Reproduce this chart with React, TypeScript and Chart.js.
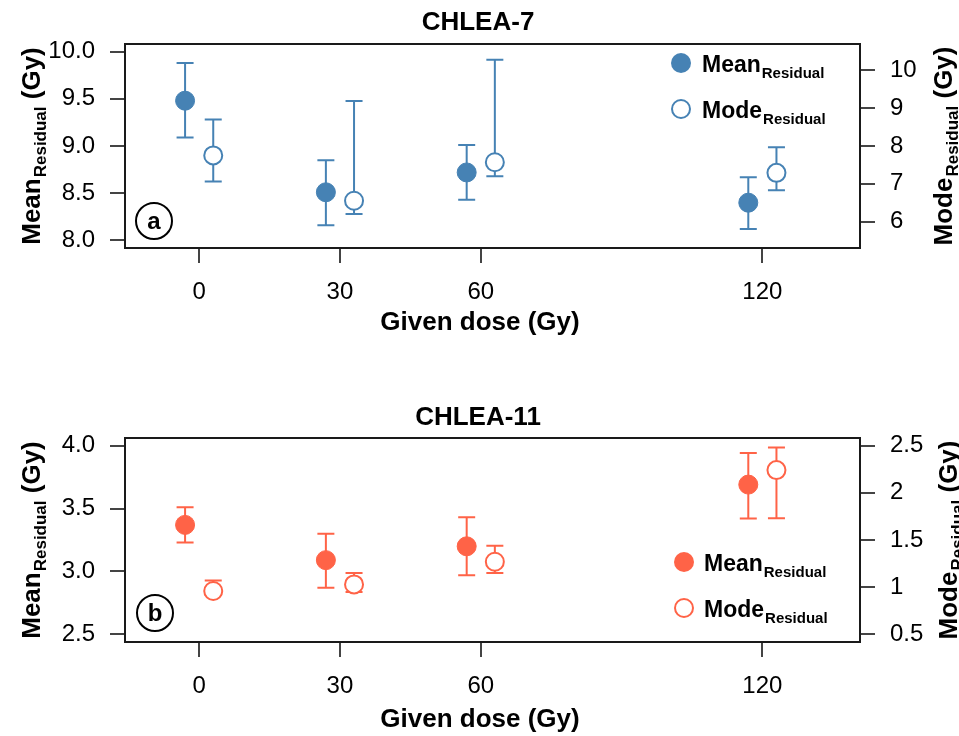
import React, { useEffect, useRef } from "react";
import { Chart, registerables } from "chart.js";

Chart.register(...registerables);

// ---------------- data ----------------
const DOSES = [0, 30, 60, 120];
const DOSE_TICKS = [0, 30, 60, 120];
const X_LIMITS = [-10, 135];
const DODGE = 3;

// Panel a: CHLEA-7
const A_MEAN = [9.48, 8.51, 8.72, 8.4];
const A_MEAN_LO = [9.09, 8.16, 8.43, 8.12];
const A_MEAN_HI = [9.88, 8.85, 9.01, 8.67];
const A_MODE = [7.75, 6.55, 7.57, 7.29];
const A_MODE_LO = [7.06, 6.2, 7.2, 6.83];
const A_MODE_HI = [8.7, 9.19, 10.28, 7.97];
const A_LEFT_TICKS = [8, 8.5, 9, 9.5, 10];
const A_RIGHT_TICKS = [6, 7, 8, 9, 10];
const A_LEFT_LIMITS = [8, 10];
const A_RIGHT_LIMITS = [5.5, 10.5];

// Panel b: CHLEA-11
const B_MEAN = [3.37, 3.09, 3.2, 3.69];
const B_MEAN_LO = [3.23, 2.87, 2.97, 3.42];
const B_MEAN_HI = [3.51, 3.3, 3.43, 3.94];
const B_MODE = [0.96, 1.03, 1.27, 2.24];
const B_MODE_LO = [0.92, 0.95, 1.15, 1.73];
const B_MODE_HI = [1.07, 1.15, 1.44, 2.48];
const B_LEFT_TICKS = [2.5, 3, 3.5, 4];
const B_RIGHT_TICKS = [0.5, 1, 1.5, 2, 2.5];
const B_LEFT_LIMITS = [2.5, 4];
const B_RIGHT_LIMITS = [0.5, 2.5];

// ---------------- style ----------------
const FONT = "'Liberation Sans', Arial, Helvetica, sans-serif";
const BLUE = "#4682B4";
const RED = "#FF6347";
const W = 959;
const H = 368;

const expand = (lim: number[]) => {
  const d = lim[1] - lim[0];
  return [lim[0] - 0.04 * d, lim[1] + 0.04 * d];
};

type Panel = {
  title: string;
  letter: string;
  color: string;
  mean: number[];
  meanLo: number[];
  meanHi: number[];
  mode: number[];
  modeLo: number[];
  modeHi: number[];
  leftTicks: number[];
  rightTicks: number[];
  leftLim: number[];
  rightLim: number[];
  areaTop: number;
  areaBottom: number;
  titleBase: number;
  xTitleBase: number;
  legendX: number;
  legendTextX: number;
  legendY: number[];
  letterX: number;
  letterY: number;
  leftLabelX: number;
  rightLabelX: number;
};

const PANELS: Panel[] = [
  {
    title: "CHLEA-7",
    letter: "a",
    color: BLUE,
    mean: A_MEAN,
    meanLo: A_MEAN_LO,
    meanHi: A_MEAN_HI,
    mode: A_MODE,
    modeLo: A_MODE_LO,
    modeHi: A_MODE_HI,
    leftTicks: A_LEFT_TICKS,
    rightTicks: A_RIGHT_TICKS,
    leftLim: A_LEFT_LIMITS,
    rightLim: A_RIGHT_LIMITS,
    areaTop: 44,
    areaBottom: 248,
    titleBase: 30,
    xTitleBase: 330,
    legendX: 681,
    legendTextX: 702,
    legendY: [63, 109],
    letterX: 154,
    letterY: 221,
    leftLabelX: 40,
    rightLabelX: 952,
  },
  {
    title: "CHLEA-11",
    letter: "b",
    color: RED,
    mean: B_MEAN,
    meanLo: B_MEAN_LO,
    meanHi: B_MEAN_HI,
    mode: B_MODE,
    modeLo: B_MODE_LO,
    modeHi: B_MODE_HI,
    leftTicks: B_LEFT_TICKS,
    rightTicks: B_RIGHT_TICKS,
    leftLim: B_LEFT_LIMITS,
    rightLim: B_RIGHT_LIMITS,
    areaTop: 70,
    areaBottom: 274,
    titleBase: 57,
    xTitleBase: 359,
    legendX: 684,
    legendTextX: 704,
    legendY: [194, 240],
    letterX: 155,
    letterY: 245,
    leftLabelX: 40,
    rightLabelX: 957,
  },
];

function drawSubLabel(
  ctx: CanvasRenderingContext2D,
  main: string,
  sub: string,
  tail: string,
  mainSize: number,
  subSize: number,
  subDrop: number,
  align: "left" | "center"
) {
  ctx.font = `bold ${mainSize}px ${FONT}`;
  const w1 = ctx.measureText(main).width;
  const w3 = ctx.measureText(tail).width;
  ctx.font = `bold ${subSize}px ${FONT}`;
  const w2 = ctx.measureText(sub).width;
  const total = w1 + 1 + w2 + w3;
  let x = align === "center" ? -total / 2 : 0;
  ctx.textAlign = "left";
  ctx.textBaseline = "alphabetic";
  ctx.font = `bold ${mainSize}px ${FONT}`;
  ctx.fillText(main, x, 0);
  x += w1 + 1;
  ctx.font = `bold ${subSize}px ${FONT}`;
  ctx.fillText(sub, x, subDrop);
  x += w2;
  ctx.font = `bold ${mainSize}px ${FONT}`;
  if (tail) ctx.fillText(tail, x, 0);
}

function makePlugin(p: Panel) {
  return {
    id: "panelDecor" + p.letter,
    beforeDatasetsDraw(chart: any) {
      const ctx: CanvasRenderingContext2D = chart.ctx;
      ctx.save();
      chart.data.datasets.forEach((ds: any, i: number) => {
        const meta = chart.getDatasetMeta(i);
        const scale = chart.scales[ds.yAxisID];
        ctx.strokeStyle = p.color;
        ctx.lineWidth = 2;
        meta.data.forEach((el: any, j: number) => {
          const x = el.x;
          const yl = scale.getPixelForValue(ds.errLo[j]);
          const yh = scale.getPixelForValue(ds.errHi[j]);
          ctx.beginPath();
          ctx.moveTo(x, yl);
          ctx.lineTo(x, yh);
          ctx.moveTo(x - 8.5, yl);
          ctx.lineTo(x + 8.5, yl);
          ctx.moveTo(x - 8.5, yh);
          ctx.lineTo(x + 8.5, yh);
          ctx.stroke();
        });
      });
      ctx.restore();
    },
    afterDraw(chart: any) {
      const ctx: CanvasRenderingContext2D = chart.ctx;
      const a = chart.chartArea;
      ctx.save();
      // box
      ctx.strokeStyle = "#1a1a1a";
      ctx.lineWidth = 2;
      ctx.strokeRect(a.left, a.top, a.right - a.left, a.bottom - a.top);

      ctx.fillStyle = "#000";
      // title
      ctx.font = `bold 26px ${FONT}`;
      ctx.textAlign = "center";
      ctx.textBaseline = "alphabetic";
      ctx.fillText(p.title, 478, p.titleBase);
      // x title
      ctx.fillText("Given dose (Gy)", 480, p.xTitleBase);

      const cy = (a.top + a.bottom) / 2;
      // left y title
      ctx.save();
      ctx.translate(p.leftLabelX, cy);
      ctx.rotate(-Math.PI / 2);
      drawSubLabel(ctx, "Mean", "Residual", " (Gy)", 26, 17, 6, "center");
      ctx.restore();
      // right y title
      ctx.save();
      ctx.translate(p.rightLabelX, cy);
      ctx.rotate(-Math.PI / 2);
      drawSubLabel(ctx, "Mode", "Residual", " (Gy)", 26, 17, 6, "center");
      ctx.restore();

      // legend
      const [ly1, ly2] = p.legendY;
      ctx.fillStyle = p.color;
      ctx.beginPath();
      ctx.arc(p.legendX, ly1, 10, 0, Math.PI * 2);
      ctx.fill();
      ctx.strokeStyle = p.color;
      ctx.lineWidth = 2;
      ctx.beginPath();
      ctx.arc(p.legendX, ly2, 9, 0, Math.PI * 2);
      ctx.fillStyle = "#fff";
      ctx.fill();
      ctx.stroke();
      ctx.fillStyle = "#000";
      ctx.save();
      ctx.translate(p.legendTextX, ly1 + 9);
      drawSubLabel(ctx, "Mean", "Residual", "", 23, 15, 5.5, "left");
      ctx.restore();
      ctx.save();
      ctx.translate(p.legendTextX, ly2 + 9);
      drawSubLabel(ctx, "Mode", "Residual", "", 23, 15, 5.5, "left");
      ctx.restore();

      // panel letter
      ctx.strokeStyle = "#000";
      ctx.lineWidth = 2;
      ctx.beginPath();
      ctx.arc(p.letterX, p.letterY, 18, 0, Math.PI * 2);
      ctx.stroke();
      ctx.fillStyle = "#000";
      ctx.font = `bold 24px ${FONT}`;
      ctx.textAlign = "center";
      ctx.textBaseline = "alphabetic";
      ctx.fillText(p.letter, p.letterX, p.letterY + 8);
      ctx.restore();
    },
  };
}

function tickGrid() {
  return {
    drawOnChartArea: false,
    drawTicks: true,
    tickLength: 15,
    color: "#444",
    lineWidth: 2,
  };
}

function buildConfig(p: Panel): any {
  const xl = expand(X_LIMITS);
  const yl = expand(p.leftLim);
  const yr = expand(p.rightLim);
  const tickFont = { family: FONT, size: 24 };
  return {
    type: "scatter",
    data: {
      datasets: [
        {
          label: "Mean",
          yAxisID: "y",
          data: DOSES.map((d, i) => ({ x: d - DODGE, y: p.mean[i] })),
          errLo: p.meanLo,
          errHi: p.meanHi,
          pointStyle: "circle",
          pointRadius: 9.5,
          pointHoverRadius: 9.5,
          pointBorderWidth: 1,
          backgroundColor: p.color,
          borderColor: p.color,
        },
        {
          label: "Mode",
          yAxisID: "y2",
          data: DOSES.map((d, i) => ({ x: d + DODGE, y: p.mode[i] })),
          errLo: p.modeLo,
          errHi: p.modeHi,
          pointStyle: "circle",
          pointRadius: 9,
          pointHoverRadius: 9,
          pointBorderWidth: 2,
          backgroundColor: "#fff",
          borderColor: p.color,
        },
      ],
    },
    options: {
      responsive: false,
      animation: false,
      events: [],
      layout: { padding: { top: p.areaTop, left: 0, right: 0, bottom: 0 } },
      plugins: {
        legend: { display: false },
        title: { display: false },
        tooltip: { enabled: false },
      },
      scales: {
        x: {
          type: "linear",
          position: "bottom",
          min: xl[0],
          max: xl[1],
          afterBuildTicks: (s: any) => {
            s.ticks = DOSE_TICKS.map((v) => ({ value: v }));
          },
          afterFit: (s: any) => {
            s.height = H - p.areaBottom;
          },
          ticks: {
            font: tickFont,
            color: "#000",
            padding: 15,
            maxRotation: 0,
            autoSkip: false,
            callback: (v: any) => String(v),
          },
          grid: tickGrid(),
          border: { display: false },
        },
        y: {
          type: "linear",
          position: "left",
          min: yl[0],
          max: yl[1],
          afterBuildTicks: (s: any) => {
            s.ticks = p.leftTicks.map((v) => ({ value: v }));
          },
          afterFit: (s: any) => {
            s.width = 125;
          },
          ticks: {
            font: tickFont,
            color: "#000",
            padding: 15,
            autoSkip: false,
            callback: (v: any) => Number(v).toFixed(1),
          },
          grid: tickGrid(),
          border: { display: false },
        },
        y2: {
          type: "linear",
          position: "right",
          min: yr[0],
          max: yr[1],
          afterBuildTicks: (s: any) => {
            s.ticks = p.rightTicks.map((v) => ({ value: v }));
          },
          afterFit: (s: any) => {
            s.width = W - 860;
          },
          ticks: {
            font: tickFont,
            color: "#000",
            padding: 15,
            autoSkip: false,
            callback: (v: any) => String(v),
          },
          grid: tickGrid(),
          border: { display: false },
        },
      },
    },
    plugins: [makePlugin(p)],
  };
}

function PanelChart({ panel, top }: { panel: Panel; top: number }) {
  const ref = useRef<HTMLCanvasElement | null>(null);
  useEffect(() => {
    if (!ref.current) return;
    const chart = new Chart(ref.current, buildConfig(panel));
    return () => chart.destroy();
  }, [panel]);
  return (
    <canvas
      ref={ref}
      width={W}
      height={H}
      style={{ position: "absolute", left: 0, top, width: W, height: H }}
    />
  );
}

export default function App() {
  return (
    <div
      style={{
        position: "absolute",
        left: 0,
        top: 0,
        width: W,
        height: 736,
        background: "#fff",
        overflow: "hidden",
      }}
    >
      <PanelChart panel={PANELS[0]} top={0} />
      <PanelChart panel={PANELS[1]} top={H} />
    </div>
  );
}
